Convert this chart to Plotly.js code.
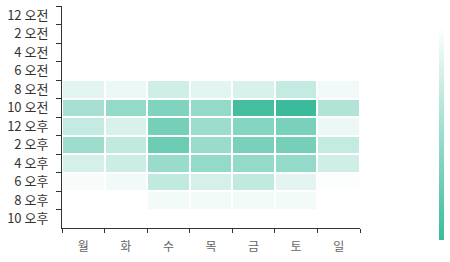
<!DOCTYPE html>
<html>
<head>
<meta charset="utf-8">
<script src="https://cdn.plot.ly/plotly-3.0.1.min.js"></script>
<style>html,body{margin:0;padding:0;background:#fff;}#chart{width:450px;height:262px;}</style>
</head>
<body>
<div id="chart"></div>
<script>
const days = ['월','화','수','목','금','토','일'];
const hours = ['12 오전','2 오전','4 오전','6 오전','8 오전','10 오전','12 오후','2 오후','4 오후','6 오후','8 오후','10 오후'];
const row12am = [0,0,0,0,0,0,0];
const row2am  = [0,0,0,0,0,0,0];
const row4am  = [0,0,0,0,0,0,0];
const row6am  = [0,0,0,0,0,0,0];
const row8am  = [0.15,0.10,0.25,0.15,0.20,0.30,0.07];
const row10am = [0.45,0.55,0.65,0.55,0.95,1.00,0.40];
const row12pm = [0.30,0.20,0.70,0.50,0.62,0.68,0.10];
const row2pm  = [0.50,0.32,0.75,0.52,0.68,0.70,0.30];
const row4pm  = [0.22,0.26,0.52,0.55,0.55,0.55,0.25];
const row6pm  = [0.04,0.07,0.32,0.22,0.32,0.14,0.02];
const row8pm  = [0,0,0.06,0.06,0.06,0.06,0];
const row10pm = [0,0,0,0,0,0,0];
const zRows = [row12am,row2am,row4am,row6am,row8am,row10am,row12pm,row2pm,row4pm,row6pm,row8pm,row10pm];
const scaleRange = [0,1];

const fam = '"Noto Sans CJK KR", "Noto Sans", sans-serif';
const yRange = [hours.length - 0.5, -0.5];
Plotly.newPlot('chart', [{
  type:'heatmap',
  x: days, y: hours, z: zRows,
  zmin:0, zmax:1,
  xgap:2, ygap:2,
  colorscale:[[0,'#ffffff'],[1,'#3bbb9b']],
  showscale:false,
  hoverinfo:'skip'
},{
  type:'scatter', mode:'markers',
  x:[null, null], y:[null, null],
  showlegend:false, hoverinfo:'skip',
  marker:{
    color: scaleRange, cmin:0, cmax:1,
    colorscale:[[0,'#3bbb9b'],[1,'#ffffff']],
    showscale:true,
    colorbar:{
      thickness:5, thicknessmode:'pixels',
      len:213, lenmode:'pixels',
      x:1.265, xanchor:'left', xpad:0,
      y:-0.054, yanchor:'bottom', ypad:0,
      outlinewidth:0, showticklabels:false, ticks:''
    }
  }
},{
  type:'scatter', mode:'markers',
  x:[null], y:hours.slice(0,1), yaxis:'y2',
  showlegend:false, hoverinfo:'skip'
}], {
  width:450, height:262,
  margin:{l:62, r:90, t:6, b:34},
  paper_bgcolor:'#fff', plot_bgcolor:'#fff',
  font:{family:fam, size:12, color:'#444'},
  xaxis:{type:'category', categoryorder:'array', categoryarray:days,
    tickson:'boundaries', ticks:'outside', ticklen:4, tickcolor:'#333',
    ticklabelstandoff:8,
    showline:true, linecolor:'#333', linewidth:1, showgrid:false, zeroline:false,
    tickfont:{family:fam, size:12, color:'#666'}},
  yaxis:{type:'category', categoryorder:'array', categoryarray:hours,
    range:yRange, autorange:false,
    ticks:'outside', ticklen:10, tickcolor:'rgba(0,0,0,0)',
    showline:false, showgrid:false, zeroline:false,
    tickfont:{family:fam, size:13, color:'#333'}},
  yaxis2:{type:'category', categoryorder:'array', categoryarray:hours,
    overlaying:'y', side:'left', anchor:'x',
    range:yRange, autorange:false,
    tickson:'boundaries', ticks:'outside', ticklen:5, tickcolor:'#333',
    showticklabels:false,
    showline:true, linecolor:'#333', linewidth:1, showgrid:false, zeroline:false}
}, {staticPlot:true, displayModeBar:false});
</script>
</body>
</html>
